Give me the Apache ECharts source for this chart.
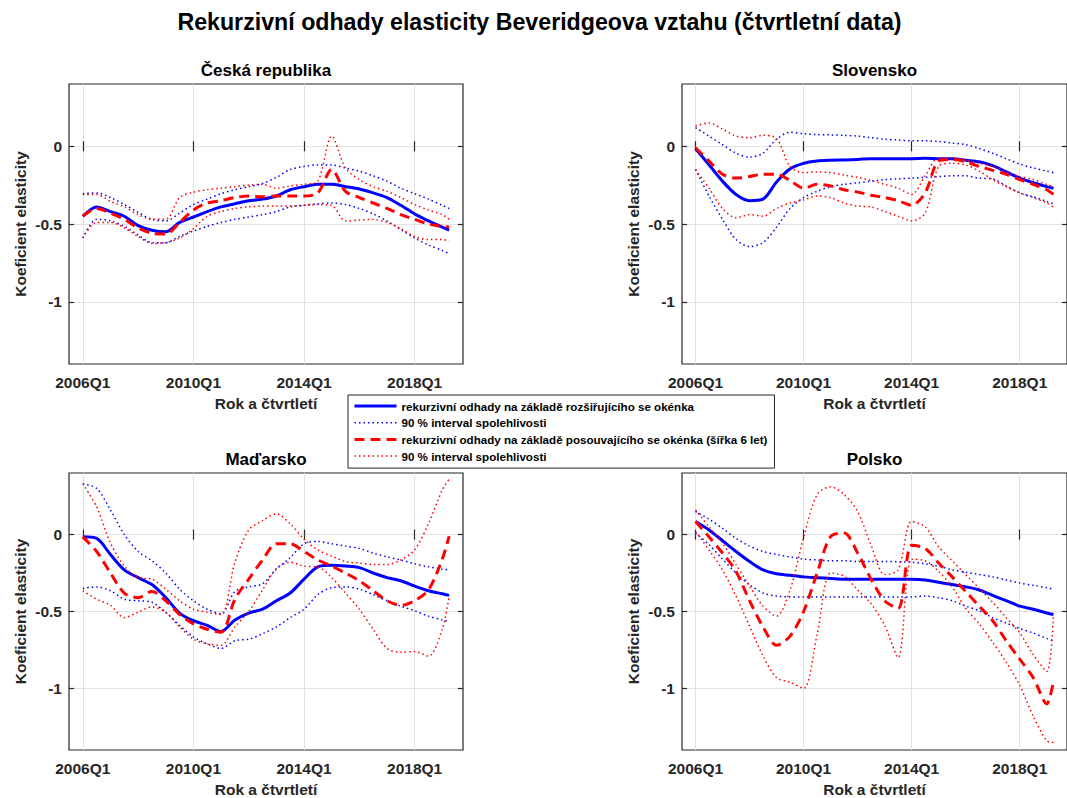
<!DOCTYPE html>
<html>
<head>
<meta charset="utf-8">
<script src="https://cdn.jsdelivr.net/npm/echarts@6/dist/echarts.min.js"></script>
<style>
  html, body { margin: 0; padding: 0; background: #fff; }
  #chart { width: 1067px; height: 798px; }
</style>
</head>
<body>
<div id="chart"></div>
<script>
// Sampling periods (quarters) shared by every series
const periods = ['2006Q1','2006Q3','2007Q1','2007Q3','2008Q1','2008Q3','2009Q1','2009Q3',
  '2010Q1','2010Q3','2011Q1','2011Q3','2012Q1','2012Q3','2013Q1','2013Q3',
  '2014Q1','2014Q3','2015Q1','2015Q3','2016Q1','2016Q3','2017Q1','2017Q3',
  '2018Q1','2018Q3','2019Q1','2019Q2'];

const xTickLabels = ['2006Q1', '2010Q1', '2014Q1', '2018Q1'];
const yTickValues = [-1, -0.5, 0];

const countries = ['Česká republika', 'Slovensko', 'Maďarsko', 'Polsko'];

// Česká republika
const czEst   = [-0.45,-0.39,-0.42,-0.45,-0.51,-0.54,-0.55,-0.49,-0.455,-0.42,-0.39,-0.37,-0.35,-0.34,-0.32,-0.28,-0.26,-0.245,-0.245,-0.26,-0.275,-0.30,-0.33,-0.38,-0.435,-0.48,-0.52,-0.54];
const czEstHi = [-0.305,-0.30,-0.33,-0.375,-0.425,-0.47,-0.48,-0.43,-0.375,-0.34,-0.305,-0.28,-0.26,-0.24,-0.20,-0.15,-0.13,-0.12,-0.12,-0.14,-0.16,-0.19,-0.225,-0.27,-0.305,-0.34,-0.38,-0.40];
const czEstLo = [-0.59,-0.47,-0.48,-0.515,-0.57,-0.62,-0.62,-0.58,-0.545,-0.515,-0.49,-0.47,-0.455,-0.44,-0.42,-0.39,-0.38,-0.37,-0.365,-0.375,-0.40,-0.435,-0.48,-0.535,-0.59,-0.635,-0.67,-0.69];
const czRoll   = [-0.45,-0.40,-0.43,-0.47,-0.525,-0.56,-0.565,-0.49,-0.41,-0.365,-0.35,-0.33,-0.32,-0.325,-0.32,-0.32,-0.32,-0.30,-0.15,-0.29,-0.33,-0.365,-0.40,-0.44,-0.47,-0.50,-0.515,-0.52];
const czRollHi = [-0.31,-0.31,-0.355,-0.39,-0.44,-0.47,-0.47,-0.33,-0.295,-0.28,-0.27,-0.26,-0.25,-0.245,-0.27,-0.255,-0.245,-0.225,0.065,-0.14,-0.215,-0.26,-0.29,-0.33,-0.375,-0.41,-0.44,-0.47];
const czRollLo = [-0.59,-0.49,-0.49,-0.525,-0.58,-0.625,-0.62,-0.59,-0.53,-0.45,-0.42,-0.40,-0.39,-0.385,-0.385,-0.385,-0.38,-0.375,-0.38,-0.48,-0.475,-0.47,-0.49,-0.53,-0.58,-0.60,-0.60,-0.61];

// Slovensko
const skEst   = [-0.015,-0.12,-0.225,-0.31,-0.35,-0.34,-0.23,-0.145,-0.11,-0.095,-0.09,-0.088,-0.085,-0.08,-0.08,-0.08,-0.08,-0.078,-0.08,-0.08,-0.09,-0.10,-0.125,-0.165,-0.205,-0.235,-0.26,-0.27];
const skEstHi = [0.12,0.065,0.01,-0.045,-0.07,-0.045,0.045,0.09,0.08,0.075,0.073,0.07,0.065,0.055,0.045,0.04,0.035,0.035,0.03,0.02,0.01,-0.015,-0.045,-0.08,-0.115,-0.14,-0.16,-0.17];
const skEstLo = [-0.15,-0.32,-0.47,-0.60,-0.645,-0.62,-0.52,-0.40,-0.33,-0.29,-0.26,-0.245,-0.235,-0.225,-0.215,-0.21,-0.205,-0.20,-0.195,-0.19,-0.19,-0.205,-0.21,-0.255,-0.30,-0.325,-0.355,-0.37];
const skRoll   = [-0.01,-0.095,-0.18,-0.205,-0.195,-0.18,-0.18,-0.22,-0.27,-0.245,-0.255,-0.28,-0.295,-0.315,-0.33,-0.35,-0.38,-0.30,-0.095,-0.085,-0.10,-0.13,-0.155,-0.18,-0.215,-0.245,-0.28,-0.31];
const skRollHi = [0.13,0.15,0.11,0.065,0.055,0.07,0.05,-0.13,-0.17,-0.165,-0.17,-0.185,-0.20,-0.22,-0.245,-0.27,-0.31,-0.19,-0.075,-0.075,-0.09,-0.11,-0.13,-0.165,-0.195,-0.215,-0.245,-0.26];
const skRollLo = [-0.15,-0.27,-0.40,-0.46,-0.44,-0.45,-0.40,-0.365,-0.345,-0.32,-0.33,-0.365,-0.385,-0.39,-0.42,-0.45,-0.48,-0.43,-0.13,-0.11,-0.12,-0.16,-0.215,-0.26,-0.30,-0.33,-0.365,-0.39];

// Maďarsko
const huEst   = [-0.015,-0.025,-0.13,-0.23,-0.28,-0.325,-0.41,-0.51,-0.56,-0.59,-0.63,-0.555,-0.51,-0.485,-0.43,-0.38,-0.29,-0.21,-0.20,-0.205,-0.215,-0.25,-0.28,-0.30,-0.335,-0.365,-0.385,-0.395];
const huEstHi = [0.33,0.30,0.16,0.0,-0.11,-0.17,-0.25,-0.355,-0.43,-0.485,-0.515,-0.37,-0.34,-0.32,-0.225,-0.15,-0.06,-0.045,-0.06,-0.075,-0.09,-0.12,-0.145,-0.165,-0.19,-0.21,-0.225,-0.23];
const huEstLo = [-0.35,-0.34,-0.365,-0.42,-0.43,-0.44,-0.505,-0.59,-0.665,-0.71,-0.74,-0.69,-0.68,-0.645,-0.60,-0.54,-0.485,-0.39,-0.345,-0.34,-0.355,-0.39,-0.43,-0.465,-0.495,-0.53,-0.555,-0.565];
const huRoll   = [-0.015,-0.11,-0.25,-0.38,-0.41,-0.37,-0.43,-0.52,-0.58,-0.615,-0.635,-0.42,-0.29,-0.165,-0.06,-0.06,-0.11,-0.165,-0.205,-0.25,-0.30,-0.365,-0.43,-0.46,-0.43,-0.36,-0.16,-0.01];
const huRollHi = [0.33,0.18,-0.055,-0.205,-0.28,-0.29,-0.355,-0.43,-0.485,-0.505,-0.52,-0.18,0.03,0.09,0.135,0.07,-0.03,-0.10,-0.14,-0.175,-0.185,-0.195,-0.195,-0.165,-0.10,0.07,0.29,0.36];
const huRollLo = [-0.365,-0.42,-0.46,-0.54,-0.505,-0.47,-0.505,-0.60,-0.68,-0.71,-0.72,-0.60,-0.50,-0.36,-0.22,-0.18,-0.205,-0.21,-0.28,-0.38,-0.485,-0.615,-0.74,-0.765,-0.76,-0.79,-0.615,-0.40];

// Polsko
const plEst   = [0.085,0.03,-0.04,-0.11,-0.175,-0.23,-0.255,-0.265,-0.275,-0.28,-0.285,-0.29,-0.29,-0.29,-0.29,-0.29,-0.29,-0.295,-0.31,-0.325,-0.34,-0.36,-0.395,-0.43,-0.465,-0.485,-0.51,-0.52];
const plEstHi = [0.15,0.10,0.04,-0.025,-0.075,-0.11,-0.13,-0.145,-0.16,-0.165,-0.17,-0.17,-0.175,-0.175,-0.175,-0.177,-0.18,-0.19,-0.205,-0.23,-0.245,-0.26,-0.275,-0.295,-0.315,-0.33,-0.345,-0.355];
const plEstLo = [0.01,-0.065,-0.16,-0.25,-0.325,-0.38,-0.40,-0.405,-0.405,-0.405,-0.405,-0.405,-0.405,-0.405,-0.405,-0.405,-0.405,-0.40,-0.41,-0.43,-0.465,-0.495,-0.54,-0.575,-0.61,-0.64,-0.675,-0.69];
const plRoll   = [0.085,-0.015,-0.12,-0.24,-0.43,-0.60,-0.72,-0.66,-0.50,-0.25,-0.013,0.01,-0.12,-0.29,-0.43,-0.48,-0.07,-0.09,-0.185,-0.275,-0.37,-0.465,-0.56,-0.69,-0.81,-0.93,-1.10,-0.95];
const plRollHi = [0.16,0.05,-0.055,-0.195,-0.335,-0.465,-0.53,-0.36,-0.02,0.26,0.31,0.26,0.15,-0.07,-0.26,-0.23,0.085,0.05,-0.08,-0.17,-0.26,-0.35,-0.44,-0.54,-0.64,-0.78,-0.89,-0.52];
const plRollLo = [0.02,-0.10,-0.23,-0.40,-0.595,-0.79,-0.93,-0.96,-1.0,-0.65,-0.25,-0.27,-0.36,-0.45,-0.59,-0.80,-0.16,-0.17,-0.24,-0.34,-0.48,-0.58,-0.70,-0.83,-0.98,-1.18,-1.34,-1.35];

const mainTitle = 'Rekurzivní odhady elasticity Beveridgeova vztahu (čtvrtletní data)';
const xAxisTitle = 'Rok a čtvrtletí';
const yAxisTitle = 'Koeficient elasticity';

const legendLabels = {
  expanding: 'rekurzivní odhady na základě rozšiřujícího se okénka',
  expandingBand: '90 % interval spolehlivosti',
  rolling: 'rekurzivní odhady na základě posouvajícího se okénka (šířka 6 let)',
  rollingBand: '90 % interval spolehlivosti'
};

const panelData = [
  [czEst, czEstHi, czEstLo, czRoll, czRollHi, czRollLo],
  [skEst, skEstHi, skEstLo, skRoll, skRollHi, skRollLo],
  [huEst, huEstHi, huEstLo, huRoll, huRollHi, huRollLo],
  [plEst, plEstHi, plEstLo, plRoll, plRollHi, plRollLo]
];

// '2006Q3' -> 2006.5
function quarterToYear(q) {
  const y = parseInt(q.slice(0, 4), 10);
  const n = parseInt(q.slice(5), 10);
  return y + (n - 1) / 4;
}
function yearToQuarter(v) {
  const y = Math.floor(v + 1e-6);
  const n = Math.round((v - y) * 4) + 1;
  return y + 'Q' + n;
}

const xs = periods.map(quarterToYear);
const xTickValues = xTickLabels.map(quarterToYear);

const FONT = '"Liberation Sans", Arial, Helvetica, sans-serif';
const AX = '#262626';
const GRIDLINE = '#e1e1e1';

const X_MIN = 2005.5, X_MAX = 2019.75;
const Y_MIN = -1.4, Y_MAX = 0.4;

const gridBoxes = [
  { left: 69,  top: 84,  width: 394, height: 280 },
  { left: 682, top: 84,  width: 395, height: 280 },
  { left: 69,  top: 473, width: 394, height: 279 },
  { left: 682, top: 473, width: 395, height: 279 }
];

const grids = gridBoxes.map(b => Object.assign({
  show: true, borderColor: AX, borderWidth: 1.2, backgroundColor: 'transparent', containLabel: false
}, b));

const labelStyle = { fontFamily: FONT, fontWeight: 'bold', fontSize: 15.5, color: AX };

const xAxes = [], yAxes = [], series = [];

countries.forEach((title, i) => {
  // bottom axis with labels and grid lines
  xAxes.push({
    gridIndex: i, type: 'value', position: 'bottom', min: X_MIN, max: X_MAX,
    axisLine: { show: false },
    axisTick: { show: true, inside: true, length: 5, customValues: xTickValues, lineStyle: { color: AX, width: 1.2 } },
    axisLabel: Object.assign({ customValues: xTickValues, margin: 10, formatter: v => yearToQuarter(v) }, labelStyle),
    splitLine: { show: true, lineStyle: { color: GRIDLINE, width: 1 } },
    name: xAxisTitle, nameLocation: 'middle', nameGap: 31,
    nameTextStyle: Object.assign({}, labelStyle)
  });
  // top axis: mirrored ticks, carries the panel title
  xAxes.push({
    gridIndex: i, type: 'value', position: 'top', min: X_MIN, max: X_MAX,
    axisLine: { show: false },
    axisTick: { show: true, inside: true, length: 5, customValues: xTickValues, lineStyle: { color: AX, width: 1.2 } },
    axisLabel: { show: false },
    splitLine: { show: false },
    name: title, nameLocation: 'middle', nameGap: 5,
    nameTextStyle: { fontFamily: FONT, fontWeight: 'bold', fontSize: 17, color: '#000' }
  });
  yAxes.push({
    gridIndex: i, type: 'value', position: 'left', min: Y_MIN, max: Y_MAX,
    axisLine: { show: false },
    axisTick: { show: true, inside: true, length: 5, customValues: yTickValues, lineStyle: { color: AX, width: 1.2 } },
    axisLabel: Object.assign({ customValues: yTickValues, margin: 7, formatter: v => String(v) }, labelStyle),
    splitLine: { show: true, lineStyle: { color: GRIDLINE, width: 1 } },
    name: yAxisTitle, nameLocation: 'middle', nameGap: 41, nameRotate: 90,
    nameTextStyle: Object.assign({}, labelStyle)
  });
  yAxes.push({
    gridIndex: i, type: 'value', position: 'right', min: Y_MIN, max: Y_MAX,
    axisLine: { show: false },
    axisTick: { show: true, inside: true, length: 5, customValues: yTickValues, lineStyle: { color: AX, width: 1.2 } },
    axisLabel: { show: false },
    splitLine: { show: false }
  });

  const [est, estHi, estLo, roll, rollHi, rollLo] = panelData[i];
  const pts = arr => xs.map((x, k) => [x, arr[k]]);
  const base = { type: 'line', xAxisIndex: 2 * i, yAxisIndex: 2 * i, symbol: 'none', smooth: 0.3, silent: true, animation: false };
  const solidBlue  = { color: '#0000ff', width: 3, type: 'solid' };
  const dotBlue    = { color: '#0000ff', width: 1.5, type: [1.5, 3] };
  const dashRed    = { color: '#ff0000', width: 3, type: [10, 6] };
  const dotRed     = { color: '#ff0000', width: 1.5, type: [1.5, 3] };

  series.push(Object.assign({}, base, { name: 'expanding', data: pts(est), lineStyle: solidBlue, itemStyle: { color: '#0000ff' } }));
  series.push(Object.assign({}, base, { name: 'expandingBand', data: pts(estHi), lineStyle: dotBlue, itemStyle: { color: '#0000ff' } }));
  series.push(Object.assign({}, base, { name: 'expandingBand', data: pts(estLo), lineStyle: dotBlue, itemStyle: { color: '#0000ff' } }));
  series.push(Object.assign({}, base, { name: 'rolling', data: pts(roll), lineStyle: dashRed, itemStyle: { color: '#ff0000' } }));
  series.push(Object.assign({}, base, { name: 'rollingBand', data: pts(rollHi), lineStyle: dotRed, itemStyle: { color: '#ff0000' } }));
  series.push(Object.assign({}, base, { name: 'rollingBand', data: pts(rollLo), lineStyle: dotRed, itemStyle: { color: '#ff0000' } }));
});

const chart = echarts.init(document.getElementById('chart'), null, { renderer: 'svg' });
chart.setOption({
  animation: false,
  backgroundColor: '#fff',
  grid: grids,
  xAxis: xAxes,
  yAxis: yAxes,
  series: series,
  legend: {
    data: ['expanding', 'expandingBand', 'rolling', 'rollingBand'],
    formatter: name => legendLabels[name],
    orient: 'vertical',
    left: 348, top: 395,
    itemWidth: 42, itemHeight: 12, itemGap: 4.7,
    padding: [5, 7, 6, 5],
    backgroundColor: '#fff',
    borderColor: AX, borderWidth: 1,
    selectedMode: false,
    itemStyle: { opacity: 0 },
    lineStyle: { width: 'inherit' },
    textStyle: { fontFamily: FONT, fontWeight: 'bold', fontSize: 11.6, color: '#000' },
    z: 10
  },
  graphic: [{
    type: 'text', x: 539.5, y: 22, z: 10,
    style: {
      text: mainTitle, fill: '#000',
      font: 'bold 23.2px ' + FONT,
      align: 'center', verticalAlign: 'middle',
      textAlign: 'center', textVerticalAlign: 'middle'
    }
  }]
});
</script>
</body>
</html>
